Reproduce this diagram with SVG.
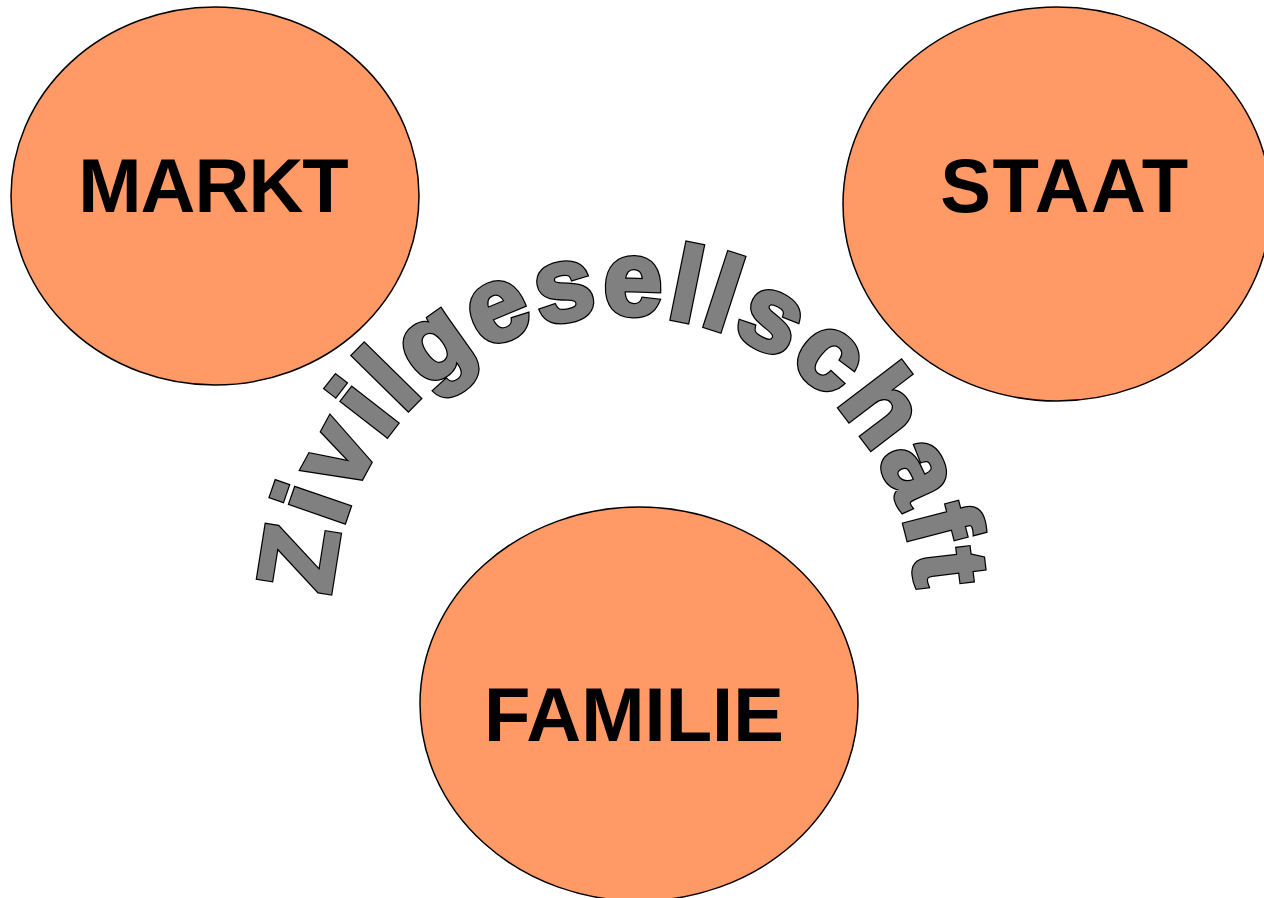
<svg xmlns="http://www.w3.org/2000/svg" width="1264" height="898" viewBox="0 0 1264 898">
  <style>
    .node { fill: #FF9966; stroke: #000000; stroke-width: 1.5; }
    .label { font-family: "Liberation Sans", Arial, sans-serif; font-weight: bold; font-size: 76px; fill: #000000; text-anchor: middle; }
    .arch { font-family: "Liberation Sans", Arial, sans-serif; font-weight: bold; font-size: 105px; letter-spacing: 4.5px; stroke-linejoin: miter; stroke-miterlimit: 4; }
    .arch-outline { fill: #000000; stroke: #000000; stroke-width: 6; }
    .arch-fill { fill: #808080; stroke: #808080; stroke-width: 3.5; }
  </style>
  <defs>
    <path id="arc" d="M331.3,594.7 A293,293 0 0 1 916.6,591.7"/>
  </defs>
  <rect width="1264" height="898" fill="#FFFFFF"/>
  <g id="markt">
    <ellipse class="node" cx="215" cy="196" rx="204" ry="189"/>
    <text class="label" x="213" y="212" letter-spacing="-1">MARKT</text>
  </g>
  <g id="staat">
    <ellipse class="node" cx="1057" cy="204" rx="214" ry="197"/>
    <text class="label" x="1065" y="212" letter-spacing="1.5">STAAT</text>
  </g>
  <g id="familie">
    <ellipse class="node" cx="639" cy="704" rx="219" ry="197"/>
    <text class="label" x="634" y="741">FAMILIE</text>
  </g>
  <g id="zivilgesellschaft">
    <text class="arch arch-outline"><textPath href="#arc" startOffset="50%" text-anchor="middle">Zivilgesellschaft</textPath></text>
    <text class="arch arch-fill"><textPath href="#arc" startOffset="50%" text-anchor="middle">Zivilgesellschaft</textPath></text>
  </g>
  <g id="connectors"/>
</svg>
